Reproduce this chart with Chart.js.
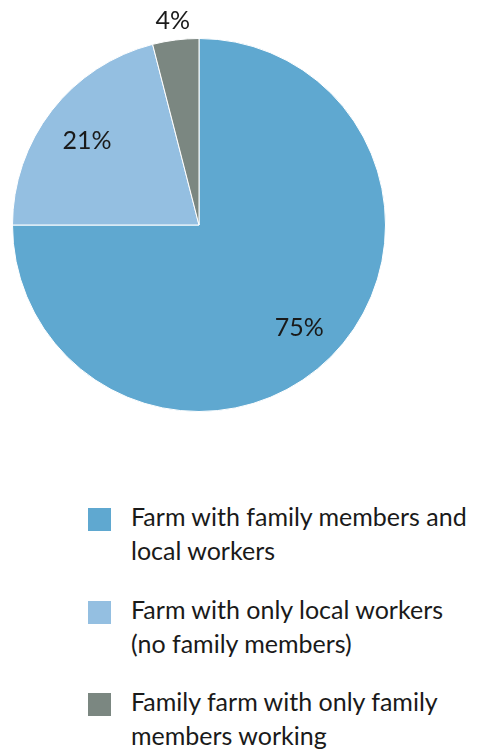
<!DOCTYPE html>
<html>

<head>
    <title>Farm workforce</title>
    <script src="https://cdn.jsdelivr.net/npm/chart.js"></script>
    <style>
        body { margin: 0; background: #fff; font-family: Lato, sans-serif; }
        .wrap { position: relative; width: 478px; height: 751px; }
        #pie-chart { position: absolute; left: 0; top: 0; }
        .legend { position: absolute; left: 88px; top: 499px; width: 390px; }
        .legend .item { position: relative; padding-left: 43px; height: 92.5px; font-size: 25px; line-height: 34px; color: #1a1a1a; }
        .legend .box { position: absolute; left: 0; top: 9px; width: 23px; height: 23px; }
    </style>
</head>

<body>
    <div class="wrap">
        <canvas id="pie-chart" width="478" height="460"></canvas>
        <div class="legend" id="legend"></div>
    </div>

    <script>
        // shares of farms by who works on them
        const categories = [
            'Farm with family members and local workers',
            'Farm with only local workers (no family members)',
            'Family farm with only family members working'
        ];
        const shares = [75, 21, 4];
        const colors = ['#5fa8d0', '#94bfe1', '#7b8781'];

        // percent labels drawn on / next to the slices
        const sliceLabels = {
            id: 'sliceLabels',
            afterDatasetsDraw(chart) {
                const ctx = chart.ctx;
                const arcs = chart.getDatasetMeta(0).data;
                ctx.save();
                ctx.font = '25px Lato';
                ctx.fillStyle = '#1a1a1a';
                ctx.textAlign = 'center';
                ctx.textBaseline = 'middle';
                arcs.forEach((arc, i) => {
                    const mid = (arc.startAngle + arc.endAngle) / 2;
                    // small slices get their label outside the pie
                    const r = shares[i] < 10 ? arc.outerRadius * 1.12 : arc.outerRadius * 0.76;
                    ctx.fillText(shares[i] + '%', arc.x + Math.cos(mid) * r, arc.y + Math.sin(mid) * r + 3);
                });
                ctx.restore();
            }
        };

        const ctx = document.getElementById('pie-chart').getContext('2d');
        new Chart(ctx, {
            type: 'pie',
            data: {
                labels: categories,
                datasets: [{
                    data: shares,
                    backgroundColor: colors,
                    borderColor: '#ffffff',
                    borderWidth: 1
                }]
            },
            options: {
                responsive: false,
                animation: false,
                layout: { padding: { left: 12, right: 92, top: 38, bottom: 48 } },
                plugins: {
                    legend: { display: false },
                    tooltip: { enabled: false }
                }
            },
            plugins: [sliceLabels]
        });

        // legend below the pie
        const legend = document.getElementById('legend');
        categories.forEach((name, i) => {
            const item = document.createElement('div');
            item.className = 'item';
            item.innerHTML = '<span class="box" style="background:' + colors[i] + '"></span>' + name;
            legend.appendChild(item);
        });
    </script>
</body>

</html>
